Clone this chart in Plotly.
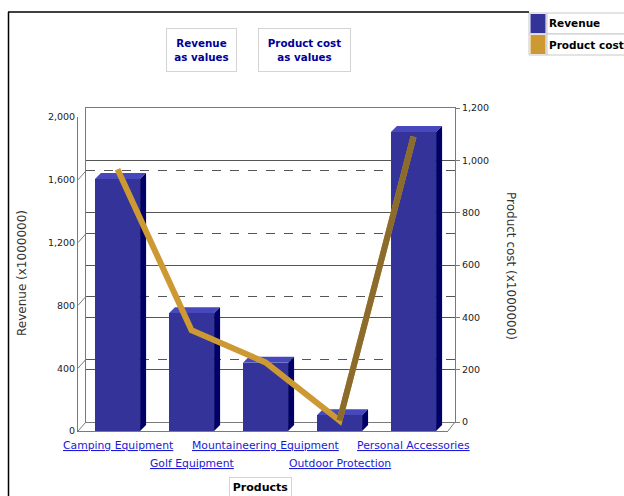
import plotly.graph_objects as go

# ---- data (values in millions) ----
categories = ["Camping Equipment", "Golf Equipment", "Mountaineering Equipment",
              "Outdoor Protection", "Personal Accessories"]
revenue = [1605, 750, 435, 100, 1905]
product_cost = [1000, 385, 262, 40, 1125]
revenue_ticks = [0, 400, 800, 1200, 1600, 2000]
cost_ticks = [0, 200, 400, 600, 800, 1000, 1200]

W, H = 624, 496
FONT = "DejaVu Sans"
BAR_FRONT = "#333399"
BAR_TOP = "#4848bd"
BAR_SIDE = "#000066"
LINE_GOLD = "#cc9933"
LINE_DARK = "#8c6c2c"
AXIS_GREY = "#7a7a7a"
GRID = "#555555"
LINK_BLUE = "#1a1ad6"


def px(x):
    return x / W


def py(y):
    return 1 - y / H


# geometry of the pseudo-3D frame (pixels)
FRONT_L, FRONT_R, FRONT_T, FRONT_B = 78, 448, 117, 431
BACK_L, BACK_R, BACK_T, BACK_B = 86, 455, 108, 422
REV_MAX, COST_MAX = 2000, 1200
X_RANGE = [-0.534, 4.466]
unit_px = (FRONT_R - FRONT_L) / (X_RANGE[1] - X_RANGE[0])
rev_per_px = REV_MAX / (FRONT_B - FRONT_T)
BAR_W = 0.61
DEPTH_X = 6 / unit_px
DEPTH_Y = 6 * rev_per_px

idx = list(range(len(categories)))

fig = go.Figure()

# empty traces so the back-wall axes are rendered
fig.add_trace(go.Scatter(x=[], y=[], xaxis="x", yaxis="y", showlegend=False))
fig.add_trace(go.Scatter(x=[], y=[], xaxis="x", yaxis="y3", showlegend=False))

# revenue bars (front faces)
fig.add_trace(go.Bar(
    x=idx, y=revenue, width=BAR_W, xaxis="x2", yaxis="y2",
    marker=dict(color=BAR_FRONT, line=dict(width=0)),
    name="Revenue", showlegend=False,
))

# product cost line
fig.add_trace(go.Scatter(
    x=idx, y=product_cost, xaxis="x2", yaxis="y4", mode="lines",
    line=dict(color=LINE_GOLD, width=6), name="Product cost", showlegend=False,
))
fig.add_trace(go.Scatter(
    x=idx[-2:], y=product_cost[-2:], xaxis="x2", yaxis="y4", mode="lines",
    line=dict(color=LINE_DARK, width=6), showlegend=False, hoverinfo="skip",
))

shapes = []
# top and side faces of the bars
for i, v in zip(idx, revenue):
    l, r = i - BAR_W / 2, i + BAR_W / 2
    top = (f"M {l},{v} L {l + DEPTH_X},{v + DEPTH_Y} "
           f"L {r + DEPTH_X},{v + DEPTH_Y} L {r},{v} Z")
    side = (f"M {r},0 L {r + DEPTH_X},{DEPTH_Y} "
            f"L {r + DEPTH_X},{v + DEPTH_Y} L {r},{v} Z")
    shapes.append(dict(type="path", path=top, xref="x2", yref="y2", layer="below",
                       fillcolor=BAR_TOP, line=dict(width=0)))
    shapes.append(dict(type="path", path=side, xref="x2", yref="y2", layer="below",
                       fillcolor=BAR_SIDE, line=dict(width=0)))

# diagonal connectors from the front revenue axis to the back wall
shift = (FRONT_B - BACK_B) * rev_per_px
for v in revenue_ticks:
    shapes.append(dict(type="line", xref="paper", yref="y2",
                       x0=px(FRONT_L), y0=v, x1=px(BACK_L), y1=v + shift,
                       line=dict(color=AXIS_GREY, width=1)))
# right floor corner
shapes.append(dict(type="line", xref="paper", yref="paper",
                   x0=px(FRONT_R), y0=py(FRONT_B), x1=px(BACK_R), y1=py(BACK_B),
                   line=dict(color=AXIS_GREY, width=1)))

# outer frame
shapes.append(dict(type="line", xref="paper", yref="paper",
                   x0=px(8), y0=py(12), x1=px(529), y1=py(12),
                   line=dict(color="#000000", width=1.5)))
shapes.append(dict(type="line", xref="paper", yref="paper",
                   x0=px(8.5), y0=py(12), x1=px(8.5), y1=py(496),
                   line=dict(color="#000000", width=1.5)))

annotations = []

# category labels, staggered over two rows
for i, name in zip(idx, categories):
    row_y = 445 if i % 2 == 0 else 463
    annotations.append(dict(text=name, xref="x2", yref="paper", x=i, y=py(row_y),
                            xanchor="center", yanchor="middle", showarrow=False,
                            font=dict(family=FONT, size=10.8, color=LINK_BLUE,
                                      lineposition="under")))

# legend table
legend_rows = [("Revenue", BAR_FRONT, 13, 34), ("Product cost", LINE_GOLD, 34, 55)]
for label, color, y0, y1 in legend_rows:
    shapes.append(dict(type="rect", xref="paper", yref="paper",
                       x0=px(529), x1=px(547), y0=py(y1), y1=py(y0),
                       line=dict(color="#c8c8c8", width=1), fillcolor="white"))
    shapes.append(dict(type="rect", xref="paper", yref="paper",
                       x0=px(547), x1=px(640), y0=py(y1), y1=py(y0),
                       line=dict(color="#c8c8c8", width=1), fillcolor="white"))
    shapes.append(dict(type="rect", xref="paper", yref="paper",
                       x0=px(530.5), x1=px(545.5), y0=py(y1 - 1), y1=py(y0 + 1),
                       line=dict(width=0), fillcolor=color))
    annotations.append(dict(text=f"<b>{label}</b>", xref="paper", yref="paper",
                            x=px(548), y=py((y0 + y1) / 2), xanchor="left",
                            yanchor="middle", showarrow=False, borderpad=0,
                            font=dict(family=FONT, size=10.5, color="#000000")))

# value toggles above the chart
for text, cx, w in [("Revenue<br>as values", 201.5, 69),
                    ("Product cost<br>as values", 304.5, 91)]:
    annotations.append(dict(text=f"<b>{text}</b>", xref="paper", yref="paper",
                            x=px(cx), y=py(50), xanchor="center", yanchor="middle",
                            showarrow=False, width=w, height=42, borderpad=0,
                            bordercolor="#d4d4d4", borderwidth=1, bgcolor="white",
                            font=dict(family=FONT, size=10.3, color="#000099")))

# axis titles
annotations.append(dict(text="Revenue (x1000000)", xref="paper", yref="paper",
                        x=px(22), y=py(273), textangle=-90, showarrow=False,
                        xanchor="center", yanchor="middle",
                        font=dict(family=FONT, size=12, color="#333333")))
annotations.append(dict(text="Product cost (x1000000)", xref="paper", yref="paper",
                        x=px(511), y=py(266), textangle=90, showarrow=False,
                        xanchor="center", yanchor="middle",
                        font=dict(family=FONT, size=12, color="#333333")))
annotations.append(dict(text="<b>Products</b>", xref="paper", yref="paper",
                        x=px(260.5), y=py(487), showarrow=False,
                        xanchor="center", yanchor="middle", width=61, height=18,
                        borderpad=0, bordercolor="#d4d4d4", borderwidth=1,
                        bgcolor="white",
                        font=dict(family=FONT, size=11, color="#000000")))

tick_font = dict(family=FONT, size=9.5, color="#222222")

fig.update_layout(
    width=W, height=H, autosize=False,
    margin=dict(l=0, r=0, t=0, b=0, pad=0, autoexpand=False),
    paper_bgcolor="white", plot_bgcolor="rgba(0,0,0,0)",
    showlegend=False, bargap=0,
    # back wall: product cost scale
    xaxis=dict(domain=[px(BACK_L), px(BACK_R)], anchor="y", range=[0, 1],
               showticklabels=False, ticks="", showgrid=False, zeroline=False,
               showline=True, mirror=True, linecolor=AXIS_GREY, fixedrange=True,
               automargin=False),
    yaxis=dict(domain=[py(BACK_B), py(BACK_T)], anchor="x", side="right",
               range=[0, COST_MAX], tickvals=cost_ticks, tickformat=",",
               showgrid=True, gridcolor=GRID, gridwidth=1, zeroline=False,
               showline=True, mirror=True, linecolor=AXIS_GREY,
               ticks="outside", ticklen=4, tickcolor=AXIS_GREY,
               tickfont=tick_font, fixedrange=True, automargin=False),
    yaxis3=dict(overlaying="y", anchor="x", range=[0, REV_MAX],
                tickvals=revenue_ticks, showticklabels=False, ticks="",
                showgrid=True, gridcolor=GRID, gridwidth=1, griddash="dash",
                zeroline=False, showline=False, fixedrange=True,
                automargin=False),
    # front plane: revenue scale and categories
    xaxis2=dict(domain=[px(FRONT_L), px(FRONT_R)], anchor="y2", range=X_RANGE,
                tickvals=idx, showticklabels=False, ticks="",
                showgrid=False, zeroline=False, showline=True,
                linecolor=AXIS_GREY, fixedrange=True, automargin=False),
    yaxis2=dict(domain=[py(FRONT_B), py(FRONT_T)], anchor="x2", range=[0, REV_MAX],
                tickvals=revenue_ticks, tickformat=",", ticks="",
                showgrid=False, zeroline=False, showline=True,
                linecolor=AXIS_GREY, tickfont=tick_font, fixedrange=True,
                automargin=False),
    yaxis4=dict(overlaying="y2", anchor="x2", range=[0, COST_MAX], visible=False,
                fixedrange=True),
    shapes=shapes,
    annotations=annotations,
)

fig.write_html("out.html")
